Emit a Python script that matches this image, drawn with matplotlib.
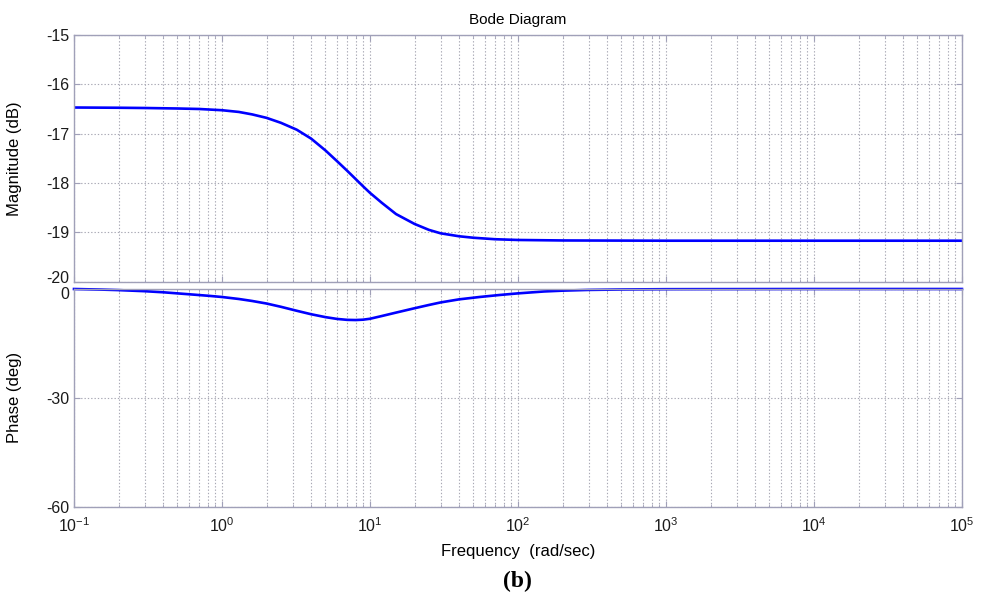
import matplotlib
matplotlib.use("Agg")
import matplotlib.pyplot as plt
import matplotlib.transforms as mtransforms
from matplotlib.ticker import LogLocator, FixedLocator, NullFormatter

plt.rcParams["font.family"] = ["Liberation Sans", "DejaVu Sans"]
plt.rcParams["mathtext.default"] = "regular"
plt.rcParams["axes.unicode_minus"] = False

# frequency response read at selected frequencies (rad/sec)
mag_freq = [0.1, 0.2, 0.3, 0.5, 0.7, 1.0, 1.3, 1.6, 2.0, 2.5, 3.2, 4.0, 5.0, 6.0,
            7.0, 8.0, 9.0, 10, 12, 15, 20, 25, 30, 40, 50, 70, 100, 200, 1e3, 1e5]
mag_db = [-16.47, -16.475, -16.48, -16.49, -16.50, -16.525, -16.56, -16.61, -16.68,
          -16.78, -16.92, -17.10, -17.34, -17.56, -17.75, -17.92, -18.07, -18.20,
          -18.40, -18.63, -18.83, -18.95, -19.02, -19.08, -19.11, -19.14, -19.155,
          -19.165, -19.17, -19.17]

phase_freq = [0.1, 0.15, 0.2, 0.3, 0.4, 0.6, 0.8, 1.0, 1.3, 1.6, 2.0, 2.5, 3.2, 4.0,
              5.0, 6.0, 7.0, 8.0, 9.0, 10, 12, 15, 20, 25, 30, 40, 55, 75, 100, 150,
              200, 300, 500, 1e3, 1e4, 1e5]
phase_deg = [0.0, -0.15, -0.3, -0.6, -0.9, -1.45, -1.85, -2.2, -2.75, -3.3, -4.0,
             -4.9, -6.0, -6.95, -7.75, -8.25, -8.5, -8.55, -8.45, -8.2, -7.45, -6.5,
             -5.3, -4.4, -3.7, -2.85, -2.2, -1.65, -1.2, -0.68, -0.45, -0.25, -0.13,
             -0.05, 0.0, 0.0]

mag_ticks = [-15, -16, -17, -18, -19, -20]
phase_ticks = [0, -30, -60]
decades = [1e-1, 1e0, 1e1, 1e2, 1e3, 1e4, 1e5]
decade_labels = ["$10^{-1}$", "$10^{0}$", "$10^{1}$", "$10^{2}$", "$10^{3}$",
                 "$10^{4}$", "$10^{5}$"]

line_color = "#0000ff"
grid_color = "#a8a8b4"
frame_color = "#a0a0b8"

fig = plt.figure(figsize=(9.84, 5.98), dpi=100)
ax_mag = fig.add_axes([0.0752, 0.529, 0.9024, 0.4125])
ax_ph = fig.add_axes([0.0752, 0.1527, 0.9024, 0.364])


def style_axis(ax, yticks, ylim):
    ax.set_xscale("log")
    ax.set_xlim(0.1, 1e5)
    ax.set_ylim(*ylim)
    ax.xaxis.set_major_locator(FixedLocator(decades))
    ax.xaxis.set_minor_locator(LogLocator(base=10, subs=range(2, 10), numticks=20))
    ax.xaxis.set_minor_formatter(NullFormatter())
    ax.set_yticks(yticks)
    ax.grid(True, which="both", axis="x", color=grid_color,
            linestyle=(0, (1.2, 1.8)), linewidth=0.8)
    ax.grid(True, which="major", axis="y", color=grid_color,
            linestyle=(0, (1.2, 1.8)), linewidth=0.8)
    for s in ax.spines.values():
        s.set_color(frame_color)
        s.set_linewidth(1.0)
    ax.tick_params(which="both", direction="in", top=True, right=True,
                   color=frame_color, labelsize=11.5, labelcolor="#1a1a1a")
    ax.tick_params(which="major", length=4)
    ax.tick_params(which="minor", length=2.5)


style_axis(ax_mag, mag_ticks, (-20, -15))
ax_mag.plot(mag_freq, mag_db, color=line_color, linewidth=1.9)
ax_mag.set_xticklabels([])
ax_mag.set_ylabel("Magnitude (dB)", fontsize=12)
ax_mag.set_title("Bode Diagram", fontsize=11, pad=8)

style_axis(ax_ph, phase_ticks, (-60, 0))
ax_ph.plot(phase_freq, phase_deg, color=line_color, linewidth=1.9, clip_on=False)
ax_ph.set_xticklabels(decade_labels)
ax_ph.tick_params(axis="x", pad=7)
ax_ph.set_ylabel("Phase (deg)", fontsize=12)

ax_mag.yaxis.set_label_coords(-0.058, 0.5)
ax_ph.yaxis.set_label_coords(-0.058, 0.5)

# nudge the two labels that meet at the gap between the panels
fig.canvas.draw()
ax_mag.get_yticklabels()[-1].set_transform(
    ax_mag.get_yticklabels()[-1].get_transform()
    + mtransforms.ScaledTranslation(0, 3 / 72, fig.dpi_scale_trans))
ax_ph.get_yticklabels()[0].set_transform(
    ax_ph.get_yticklabels()[0].get_transform()
    + mtransforms.ScaledTranslation(0, -3 / 72, fig.dpi_scale_trans))

fig.text(0.527, 0.078, "Frequency  (rad/sec)", ha="center", va="center", fontsize=12)
fig.text(0.526, 0.027, "(b)", ha="center", va="center", fontsize=17,
         fontweight="bold", family="Liberation Serif")

fig.savefig("out.png", dpi=100)
